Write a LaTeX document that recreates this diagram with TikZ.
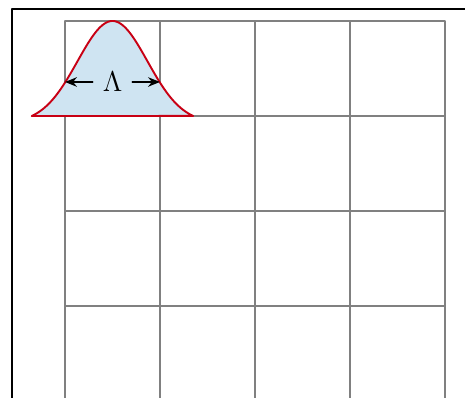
\documentclass[tikz,border=0pt]{standalone}
\usetikzlibrary{arrows.meta}
\begin{document}
\begin{tikzpicture}[x=1.4cm, y=1.4cm, line cap=round, line join=round]
  \definecolor{bumpred}{RGB}{200,0,20}
  \definecolor{bumpblue}{RGB}{207,228,242}
  \useasboundingbox (-0.684,-2.958) rectangle (4.2105,1.221);
  \clip (-0.684,-2.958) rectangle (4.2105,1.221);
  \draw[thick] (-0.558,-3.5) -- (-0.558,1.126) -- (4.5,1.126);
  \draw[thick,gray,step=1.4cm] (0,-3.5) grid (4,1);
  \filldraw[thick,bumpred,fill=bumpblue,domain=-0.35:1.35,samples=90]
    plot (\x,{(exp(-(\x-0.5)^2/0.27)-0.0688)/0.9312}) -- cycle;
  \node[inner sep=4pt,font=\large] (lam) at (0.5,0.358) {$\Lambda$};
  \coordinate (lamL) at (0,0.358);
  \coordinate (lamR) at (1,0.358);
  \draw[line width=0.6pt,-{Stealth[length=5pt,width=4pt]}] (lam) -- (lamL);
  \draw[line width=0.6pt,-{Stealth[length=5pt,width=4pt]}] (lam) -- (lamR);
\end{tikzpicture}
\end{document}
